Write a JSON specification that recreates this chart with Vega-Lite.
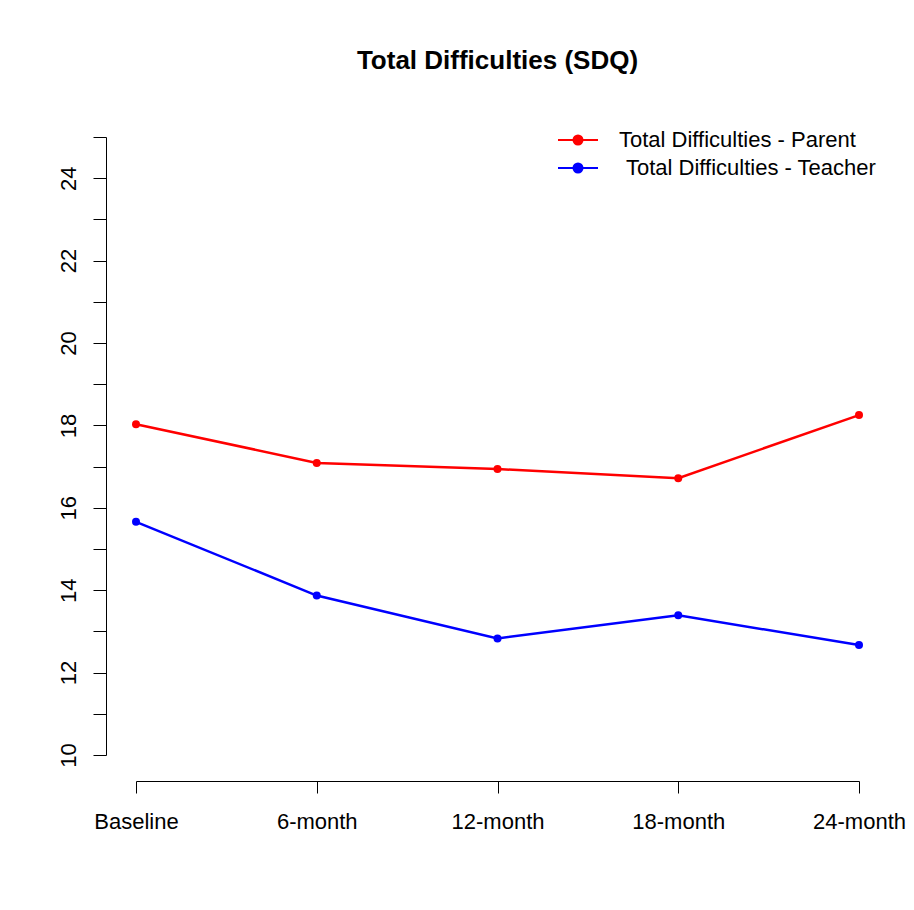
{
  "$schema": "https://vega.github.io/schema/vega-lite/v6.json",
  "width": 723,
  "height": 618,
  "autosize": {"type": "none"},
  "padding": {"left": 136, "top": 137, "right": 55, "bottom": 155},
  "background": "white",
  "config": {
    "view": {"stroke": null},
    "font": "Liberation Sans"
  },
  "title": {
    "text": "Total Difficulties (SDQ)",
    "font": "Liberation Sans",
    "fontSize": 26,
    "fontWeight": "bold",
    "color": "black",
    "anchor": "middle",
    "baseline": "alphabetic",
    "offset": 34
  },
  "data": {
    "values": [
      {"time": "Baseline", "series": "Total Difficulties - Parent", "score": 18.03},
      {"time": "6-month", "series": "Total Difficulties - Parent", "score": 17.09},
      {"time": "12-month", "series": "Total Difficulties - Parent", "score": 16.94},
      {"time": "18-month", "series": "Total Difficulties - Parent", "score": 16.72},
      {"time": "24-month", "series": "Total Difficulties - Parent", "score": 18.25},
      {"time": "Baseline", "series": "Total Difficulties - Teacher", "score": 15.66},
      {"time": "6-month", "series": "Total Difficulties - Teacher", "score": 13.87},
      {"time": "12-month", "series": "Total Difficulties - Teacher", "score": 12.83},
      {"time": "18-month", "series": "Total Difficulties - Teacher", "score": 13.39},
      {"time": "24-month", "series": "Total Difficulties - Teacher", "score": 12.67}
    ]
  },
  "encoding": {
    "x": {
      "field": "time",
      "type": "ordinal",
      "sort": ["Baseline", "6-month", "12-month", "18-month", "24-month"],
      "scale": {"type": "point", "padding": 0},
      "axis": {
        "title": null,
        "offset": 26,
        "domainColor": "black",
        "domainWidth": 1,
        "tickColor": "black",
        "tickSize": 12,
        "labelAngle": 0,
        "labelFont": "Liberation Sans",
        "labelFontSize": 22,
        "labelColor": "black",
        "labelPadding": 18,
        "labelBaseline": "top",
        "grid": false
      }
    },
    "y": {
      "field": "score",
      "type": "quantitative",
      "scale": {"domain": [10, 25], "nice": false, "zero": false},
      "axis": {
        "title": null,
        "offset": 30,
        "values": [10, 11, 12, 13, 14, 15, 16, 17, 18, 19, 20, 21, 22, 23, 24, 25],
        "labelExpr": "(datum.value % 2 == 0 && datum.value < 25) ? datum.label : ''",
        "domainColor": "black",
        "tickColor": "black",
        "tickSize": 13,
        "labelAngle": 270,
        "labelAlign": "center",
        "labelBaseline": "alphabetic",
        "labelFont": "Liberation Sans",
        "labelFontSize": 22,
        "labelColor": "black",
        "labelPadding": 18,
        "grid": false
      }
    },
    "color": {
      "field": "series",
      "type": "nominal",
      "scale": {
        "domain": ["Total Difficulties - Parent", "Total Difficulties - Teacher"],
        "range": ["#ff0000", "#0000ff"]
      },
      "legend": {
        "title": null,
        "orient": "none",
        "legendX": 431,
        "legendY": -8,
        "padding": 0,
        "symbolType": "M-2,0H2M-0.45,0A0.45,0.45 0 1,0 0.45,0A0.45,0.45 0 1,0 -0.45,0Z",
        "symbolSize": 400,
        "symbolStrokeWidth": 2,
        "labelFont": "Liberation Sans",
        "labelFontSize": 22,
        "labelColor": "black",
        "labelOffset": 30,
        "rowPadding": 6,
        "labelLimit": 400,
        "encode": {
          "labels": {
            "update": {
              "dx": {"signal": "indexof(datum.value, 'Teacher') >= 0 ? 7 : 0"}
            }
          }
        }
      }
    }
  },
  "layer": [
    {"mark": {"type": "line", "strokeWidth": 2.5}},
    {"mark": {"type": "point", "filled": true, "size": 64, "opacity": 1}}
  ]
}
